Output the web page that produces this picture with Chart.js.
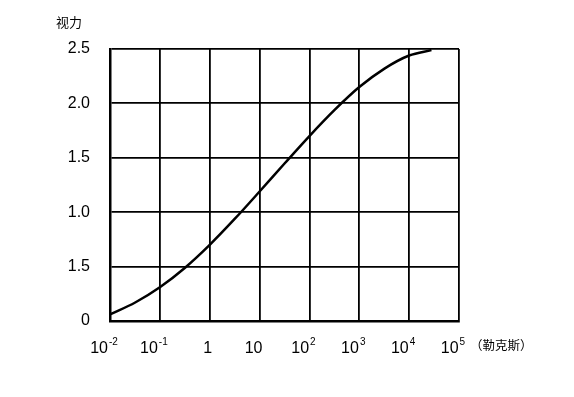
<!DOCTYPE html>
<html>
<head>
<meta charset="utf-8">
<script src="https://cdn.jsdelivr.net/npm/chart.js@4"></script>
<style>
  html, body { margin: 0; padding: 0; background: #fff; }
  #wrap { width: 574px; height: 397px; }
</style>
</head>
<body>
<div id="wrap"><canvas id="acuityChart" width="574" height="397"></canvas></div>
<script>
// illuminance (lux) and visual acuity
const lux = [0.01, 0.032, 0.1, 0.32, 1, 3.2, 10, 32, 100, 320, 1000, 3200, 10000, 28000];
const acuity = [0.06, 0.17, 0.31, 0.49, 0.70, 0.94, 1.19, 1.45, 1.70, 1.94, 2.15, 2.32, 2.44, 2.49];

// decade exponents for the x axis, printed labels for the y axis (as in the source)
const xExponents = [-2, -1, 0, 1, 2, 3, 4, 5];
const yTickLabels = ['0', '1.5', '1.0', '1.5', '2.0', '2.5'];
const yTitle = '视力';
const xUnit = '（勒克斯）';

// draws the decade labels with small raised exponents, plus title and unit
const textPlugin = {
    id: 'textPlugin',
    afterDraw(chart) {
        const ctx = chart.ctx;
        const xs = chart.scales.x;
        const y0 = chart.chartArea.bottom;
        ctx.save();
        ctx.fillStyle = '#000';
        ctx.textBaseline = 'alphabetic';
        xExponents.forEach(e => {
            const px = xs.getPixelForValue(Math.pow(10, e));
            let base, exp = '';
            if (e === 0) base = '1';
            else if (e === 1) base = '10';
            else { base = '10'; exp = String(e); }
            ctx.font = '16px "Liberation Sans", Arial, sans-serif';
            const wb = ctx.measureText(base).width;
            ctx.font = '10px "Liberation Sans", Arial, sans-serif';
            const we = exp ? ctx.measureText(exp).width + 1 : 0;
            const left = px - 6 - (wb + we) / 2 + (e === 0 ? 4 : 0);
            ctx.font = '16px "Liberation Sans", Arial, sans-serif';
            ctx.textAlign = 'left';
            ctx.fillText(base, left, y0 + 32);
            if (exp) {
                ctx.font = '10px "Liberation Sans", Arial, sans-serif';
                ctx.fillText(exp, left + wb + 1, y0 + 24);
            }
        });
        ctx.font = '13px "Noto Sans CJK SC", sans-serif';
        ctx.textAlign = 'left';
        ctx.fillText(yTitle, 56, 27);
        ctx.font = '12.5px "Noto Sans CJK SC", sans-serif';
        ctx.fillText(xUnit, 470, 350);
        ctx.restore();
    }
};

const ctx = document.getElementById('acuityChart').getContext('2d');
new Chart(ctx, {
    type: 'line',
    data: {
        datasets: [{
            data: lux.map((v, i) => ({ x: v, y: acuity[i] })),
            borderColor: '#000',
            borderWidth: 2.5,
            pointRadius: 0,
            fill: false,
            cubicInterpolationMode: 'monotone'
        }]
    },
    options: {
        animation: false,
        responsive: false,
        devicePixelRatio: 1,
        layout: { padding: { left: 0, right: 115, top: 49, bottom: 0 } },
        plugins: {
            legend: { display: false },
            tooltip: { enabled: false }
        },
        scales: {
            x: {
                type: 'logarithmic',
                min: 0.01,
                max: 100000,
                afterBuildTicks(scale) {
                    scale.ticks = xExponents.map(e => ({ value: Math.pow(10, e) }));
                },
                afterFit(scale) { scale.height = 76; },
                ticks: { display: false },
                grid: { color: '#000', lineWidth: 1.8, drawTicks: false },
                border: { color: '#000', width: 2.5 }
            },
            y: {
                min: 0,
                max: 2.5,
                ticks: {
                    stepSize: 0.5,
                    color: '#000',
                    padding: 20,
                    font: { size: 16, family: '"Liberation Sans", Arial, sans-serif' },
                    callback: (v, i) => yTickLabels[i]
                },
                afterFit(scale) { scale.width = 110; },
                grid: { color: '#000', lineWidth: 1.8, drawTicks: false },
                border: { color: '#000', width: 2.5 }
            }
        }
    },
    plugins: [textPlugin]
});
</script>
</body>
</html>
